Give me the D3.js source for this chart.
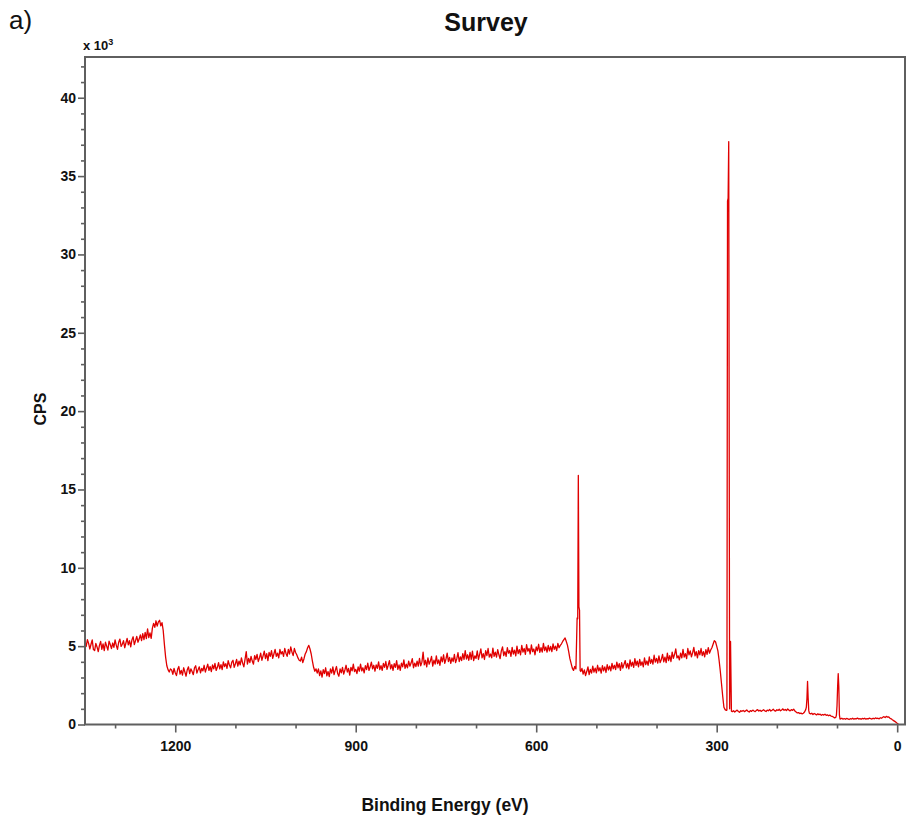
<!DOCTYPE html>
<html>
<head>
<meta charset="utf-8">
<script src="https://cdn.jsdelivr.net/npm/d3@7"></script>
<style>
  body { margin: 0; background: #fff; }
  svg { display: block; }
  text { font-family: "Liberation Sans", Arial, Helvetica, sans-serif; }
</style>
</head>
<body>
<svg id="chart" width="907" height="823"></svg>
<script>
// XPS wide scan. Counts per second are in units of 10^3.
// Background regions are recorded on a 2 eV grid starting at `start` (eV, descending).
const stepEV = 2;

const regionA = { start: 1350, cps: [
  5.28,4.98,5.42,5.18,4.82,5.12,5.40,4.78,4.72,5.18,4.95,4.65,5.05,5.30,4.80,5.15,
  4.72,5.25,5.00,4.75,5.32,5.10,4.85,5.20,4.92,5.40,5.05,4.80,5.25,5.45,4.98,5.12,
  5.35,4.90,5.20,5.50,5.08,5.35,4.95,5.40,5.60,5.10,5.35,5.62,5.25,5.45,5.72,5.35,
  5.80,5.42,5.88,5.48,6.10,5.55,5.85,5.50,6.15,6.45,6.20,6.62,6.28,6.55,6.65,6.30,
  6.50,6.00,5.10,4.30,3.75,3.50,3.35,3.55
]};

const regionB = { start: 1206, cps: [
  3.48,3.20,3.58,3.30,3.12,3.52,3.70,3.22,3.45,3.15,3.62,3.35,3.08,3.50,3.68,3.25,
  3.55,3.38,3.18,3.62,3.75,3.28,3.50,3.68,3.30,
  3.58,3.42,3.78,3.35,3.60,3.85,3.45,3.70,3.38,3.80,3.55,3.90,3.45,3.65,3.95,3.55,
  3.82,3.50,4.00,3.70,3.88,3.58,4.08,3.80,3.62,3.98,4.10,3.65,3.88,
  4.15,3.72,4.05,3.80,4.25,3.92,3.68,4.15,4.65,3.85,4.22,3.95,4.35,4.05,3.85,4.40,
  4.15,4.48,4.02,4.25,4.55,4.10,4.38,4.68,4.20,4.52,4.08,4.60,4.35,4.72,4.22,4.50,
  4.80,4.35,4.55,4.25,4.80,4.50,4.65,4.35,4.85,4.55,
  4.35,4.80,4.50,4.95,4.62,4.40,4.85,4.60,4.45,4.25,4.10,4.05,4.30,3.95,4.20,4.50,
  4.65,4.90,5.05,4.82,4.50,4.05,3.65,3.40,3.55
]};

const regionC = { start: 964, cps: [
  3.28,3.55,3.12,3.42,3.02,3.50,3.25,3.62,3.10,3.38,3.05,3.55,3.28,3.68,3.18,3.45,
  3.70,3.25,3.08,3.55,3.30,3.65,3.22,3.48,3.78,3.35,3.58,3.15,3.65,3.42,3.85,3.38,
  3.52,3.25,3.68,3.40,3.85,3.42,3.62,3.30,3.75,3.50,3.92,3.45,3.68,3.98,3.55,3.78,
  3.40,3.80,3.58,4.00,3.50,3.75,3.45,3.90,3.65,4.02,3.52,3.78,4.08,3.55,3.82,3.45,
  3.88,3.65,4.08,3.52,3.80,3.45,3.92,3.68,4.12,3.58,3.85,3.62,4.05,3.72,3.92,4.20,
  3.62,3.92,3.70,4.05,3.72,4.22,3.75,3.98,4.62,3.80,4.10,3.68,4.25,3.85,4.05,4.35,
  3.72,4.10,3.85,4.38,3.88,4.12,3.78,4.32,4.00,4.45,3.90,4.18,4.55,4.02,4.28,3.90,
  4.25,4.02,4.48,3.95,4.20,4.58,4.02,4.32,4.08,4.52,4.15,4.72,4.18,4.45,4.10,4.60,
  4.15,4.68,4.08,4.38,4.22,4.70,4.15,4.48,4.82,4.25,4.52,4.15,4.72,4.40,4.85,4.30,
  4.50,4.25,4.88,4.35,4.62,4.30,4.78,4.45,4.20,4.70,4.95,4.40,4.65,4.35,4.90,4.55,
  4.72,4.35,4.92,4.50,4.75,4.38,5.00,4.52,4.78,4.45,5.05,4.62,4.85,4.48,5.10,4.68,
  4.85,4.50,5.08,4.65,4.82,4.45,4.95,4.70,5.12,4.60,4.90,4.62,5.18,4.72,4.95,4.62,
  5.05,4.70,4.98,4.65,5.15,4.80,5.00,4.72,5.18,4.90,5.05,5.15,5.30,5.42,5.52,5.30,
  5.05,4.65,4.20,3.90,3.60,3.45,3.70
]};

const peakO1s = [
  [534,3.55],[532,6.80],[531,6.75],[530,15.90],[529,7.50],[528,7.30],[527,3.45],[526,3.38]
];

const regionD = { start: 524, cps: [
  3.58,3.22,3.48,3.12,3.38,3.68,3.18,3.52,3.28,3.72,3.35,3.60,3.30,3.78,3.42,3.62,
  3.28,3.75,3.42,3.68,3.32,3.82,3.48,3.72,3.42,3.90,3.55,3.78,3.50,3.98,3.62,3.88,
  3.45,3.95,3.60,3.85,4.08,3.62,3.90,3.55,4.12,3.72,3.98,3.65,4.20,3.78,4.05,3.68,
  4.15,3.78,4.00,3.68,4.25,3.82,4.05,3.78,4.32,3.90,4.15,3.85,4.42,3.98,4.22,3.92,
  4.38,3.95,4.15,4.48,4.00,4.30,3.95,4.55,4.08,4.40,4.02,4.62,4.22,4.48,4.82,4.25,
  4.38,4.12,4.55,4.25,4.80,4.30,4.52,4.20,4.85,4.45,4.70,4.32,4.58,4.92,4.38,4.65,
  4.25,4.72,4.45,4.85,4.40,4.65,4.32,4.78,4.48,4.90,4.55,4.75,4.90,5.12,5.35,5.28,
  5.00,4.70,4.10,3.40,2.60,1.80,1.10,0.95
]};

const peakC1s = [
  [284,0.90],[283,0.92],[282,33.40],[281,33.60],[280,37.20],[278.5,1.00],[277,5.30],[275.5,0.85]
];

const regionE = { start: 274, cps: [
  0.82,0.88,0.80,0.86,0.92,0.83,0.78,0.88,0.84,0.90,0.82,0.87,0.93,0.85,0.80,0.89,
  0.84,0.92,0.86,0.82,0.90,0.95,0.86,0.91,0.84,0.89,0.94,0.87,0.83,0.92,0.88,0.96,
  0.86,0.91,0.98,0.89,0.85,0.94,0.90,0.97,0.88,0.93,1.00,0.91,0.96,0.89,0.99,0.92,
  0.87,0.95,0.90,0.98,0.86,0.80,0.74,0.76,0.70,0.73,0.68,0.72,0.80,0.95
]};

const peakSi2p = [
  [151,1.10],[150,1.65],[149,2.75],[148,1.70],[147,0.90],[146,0.72]
];

const regionF = { start: 144, cps: [
  0.68,0.72,0.64,0.70,0.66,0.61,0.68,0.63,0.66,0.59,0.64,0.60,0.66,0.58,0.62,0.56,
  0.60,0.54,0.52,0.48,0.42,0.45
]};

const peakSi2pLow = [
  [101,0.60],[100,1.20],[99,2.40],[98,3.25],[97,2.40],[96,0.60],[95,0.35]
];

const regionG = { start: 94, cps: [
  0.36,0.40,0.34,0.38,0.33,0.39,0.36,0.32,0.37,0.35,0.40,0.34,0.38,0.36,0.41,0.35,
  0.38,0.33,0.39,0.36,0.40,0.34,0.38,0.36,0.41,0.37,0.35,0.40,0.36,0.42,0.38,0.40,
  0.36,0.43,0.40,0.46,0.50,0.44,0.52,0.47,0.49,0.40,0.36,0.30,0.25,0.20,0.14,0.08,
  0.04
]};

const xMajorTicks = [1200, 900, 600, 300, 0];
const xMinorTicks = [1300, 1100, 1000, 800, 700, 500, 400, 200, 100];
const yMajorTicks = [0, 5, 10, 15, 20, 25, 30, 35, 40];

const gridPoints = r => r.cps.map((v, i) => [r.start - i * stepEV, v]);
const spectrum = [].concat(
  gridPoints(regionA), gridPoints(regionB), gridPoints(regionC), peakO1s,
  gridPoints(regionD), peakC1s, gridPoints(regionE), peakSi2p,
  gridPoints(regionF), peakSi2pLow, gridPoints(regionG)
).sort((a, b) => b[0] - a[0]);

const svg = d3.select("#chart");
const plot = { left: 85, right: 905, top: 57, bottom: 724.5 };

const x = d3.scaleLinear().domain([1350, -13]).range([plot.left, plot.right]);
const y = d3.scaleLinear().domain([0, 42.6]).range([plot.bottom, plot.top]);

const axisColor = "#5f5f5f";
const labelColor = "#111";

svg.append("clipPath").attr("id", "plotClip")
  .append("rect")
  .attr("x", plot.left).attr("y", plot.top)
  .attr("width", plot.right - plot.left).attr("height", plot.bottom - plot.top);

const line = d3.line().x(d => x(d[0])).y(d => y(d[1]));

svg.append("path")
  .datum(spectrum)
  .attr("clip-path", "url(#plotClip)")
  .attr("fill", "none")
  .attr("stroke", "#e00000")
  .attr("stroke-width", 1.3)
  .attr("stroke-linejoin", "round")
  .attr("d", line);

function styleAxis(g) {
  g.select(".domain").remove();
  g.selectAll(".tick line").attr("stroke", axisColor).attr("stroke-width", 1.6);
  g.selectAll(".tick text")
    .attr("fill", labelColor)
    .style("font-size", "14px")
    .style("font-weight", "bold");
}

// y axis: labelled ticks every 5, minor ticks every 1 (x 10^3)
const yMinor = d3.range(0, 43, 1).filter(v => v % 5 !== 0);

svg.append("g")
  .attr("transform", `translate(${plot.left},0)`)
  .call(d3.axisLeft(y).tickValues(yMinor).tickSize(4).tickFormat(""))
  .call(styleAxis);

svg.append("g")
  .attr("transform", `translate(${plot.left},0)`)
  .call(d3.axisLeft(y).tickValues(yMajorTicks).tickSize(7).tickPadding(2).tickFormat(d3.format("d")))
  .call(styleAxis);

// x axis (binding energy decreases to the right)
svg.append("g")
  .attr("transform", `translate(0,${plot.bottom})`)
  .call(d3.axisBottom(x).tickValues(xMinorTicks).tickSize(4).tickFormat(""))
  .call(styleAxis);

svg.append("g")
  .attr("transform", `translate(0,${plot.bottom})`)
  .call(d3.axisBottom(x).tickValues(xMajorTicks).tickSize(8).tickPadding(9).tickFormat(d3.format("d")))
  .call(styleAxis);

// frame
svg.append("rect")
  .attr("x", plot.left).attr("y", plot.top)
  .attr("width", plot.right - plot.left).attr("height", plot.bottom - plot.top)
  .attr("fill", "none")
  .attr("stroke", axisColor)
  .attr("stroke-width", 2);

// titles and labels
svg.append("text")
  .attr("x", 486).attr("y", 31)
  .attr("text-anchor", "middle")
  .attr("fill", labelColor)
  .style("font-size", "25px").style("font-weight", "bold")
  .text("Survey");

svg.append("text")
  .attr("x", 9).attr("y", 29)
  .attr("fill", labelColor)
  .style("font-size", "26px")
  .text("a)");

const mult = svg.append("text")
  .attr("x", 83).attr("y", 50)
  .attr("fill", labelColor)
  .style("font-size", "13px").style("font-weight", "bold");
mult.append("tspan").text("x 10");
mult.append("tspan").attr("dy", -5).style("font-size", "9px").text("3");

svg.append("text")
  .attr("transform", "translate(46,409) rotate(-90)")
  .attr("text-anchor", "middle")
  .attr("fill", labelColor)
  .style("font-size", "16px").style("font-weight", "bold")
  .text("CPS");

svg.append("text")
  .attr("x", 445).attr("y", 811)
  .attr("text-anchor", "middle")
  .attr("fill", labelColor)
  .style("font-size", "17.5px").style("font-weight", "bold")
  .text("Binding Energy (eV)");
</script>
</body>
</html>
